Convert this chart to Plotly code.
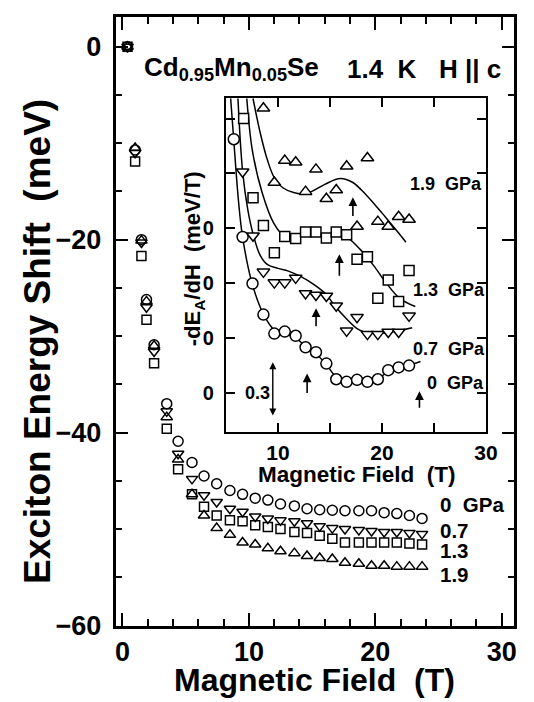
import plotly.graph_objects as go

FONT = "Liberation Sans, Arial, Helvetica, sans-serif"

# ---------------- main panel data ----------------
field = [0.4, 1.0, 1.5, 1.9, 2.5, 3.5, 4.4, 5.5, 6.45, 7.45, 8.5, 9.5, 10.5, 11.5,
         12.5, 13.6, 14.6, 15.6, 16.6, 17.6, 18.7, 19.7, 20.7, 21.7, 22.7, 23.7]
shift_0GPa = [0.0, -10.7, -20.0, -26.2, -30.9, -37.0, -40.9, -43.1, -44.5, -45.3, -46.0,
              -46.4, -46.8, -47.0, -47.4, -47.6, -47.9, -48.0, -48.05, -48.1, -48.1,
              -48.1, -48.3, -48.4, -48.6, -48.9]
shift_07GPa = [0.0, -11.0, -20.3, -27.0, -31.6, -37.8, -42.2, -44.8, -46.5, -47.2, -47.9,
               -48.2, -48.7, -48.9, -49.1, -49.2, -49.4, -49.7, -49.9, -50.0, -50.1,
               -50.2, -50.3, -50.3, -50.4, -50.5]
shift_13GPa = [0.0, -11.9, -21.7, -28.3, -32.8, -39.6, -43.8, -46.4, -47.7, -48.6, -49.1,
               -49.2, -49.6, -49.8, -50.0, -50.3, -50.4, -50.7, -51.0, -51.4, -51.4,
               -51.4, -51.4, -51.4, -51.5, -51.6]
shift_19GPa = [0.0, -10.5, -20.1, -26.4, -31.0, -38.4, -42.8, -46.4, -48.6, -49.9, -50.6,
               -51.4, -51.6, -52.0, -52.3, -52.5, -52.8, -53.0, -53.1, -53.5, -53.6,
               -53.8, -53.8, -53.9, -53.9, -53.9]

main_labels = ["0  GPa", "0.7", "1.3", "1.9"]
main_label_y = [-47.5, -50.1, -52.2, -54.7]

# ---------------- inset data (each curve offset by 0.3 meV/T) ----------------
in_x_0 = [5.75, 6.6, 7.55, 8.6, 9.65, 10.65, 11.7, 12.65, 13.65, 14.65, 15.6, 16.6,
          17.6, 18.6, 19.6, 20.6, 21.6, 22.6]
in_y_0 = [1.387, 0.852, 0.597, 0.427, 0.323, 0.334, 0.311, 0.248, 0.221, 0.159, 0.073,
          0.059, 0.070, 0.059, 0.073, 0.123, 0.138, 0.148]
in_x_07 = [6.6, 7.6, 8.6, 9.65, 10.65, 11.7, 12.65, 13.65, 14.65, 15.6, 16.6, 17.6,
           18.6, 19.6, 20.6, 21.6, 22.6]
in_y_07 = [1.209, 0.859, 0.661, 0.602, 0.602, 0.628, 0.543, 0.534, 0.529, 0.475, 0.338,
           0.413, 0.320, 0.320, 0.332, 0.332, 0.420]
in_x_13 = [6.7, 7.6, 8.6, 9.65, 10.65, 11.7, 12.65, 13.65, 14.65, 15.6, 16.6, 17.6,
           18.6, 19.6, 20.6, 21.6, 22.6]
in_y_13 = [1.50, 1.066, 0.915, 0.766, 0.855, 0.843, 0.879, 0.879, 0.846, 0.879, 0.864,
           0.730, 0.743, 0.516, 0.616, 0.498, 0.668]
in_x_19 = [8.6, 9.65, 10.65, 11.7, 12.65, 13.65, 14.65, 15.6, 16.6, 17.6, 18.6, 19.6,
           20.6, 21.6, 22.6]
in_y_19 = [1.557, 1.150, 1.270, 1.261, 1.100, 1.222, 1.061, 1.109, 1.239, 0.909, 1.284,
           0.936, 0.909, 0.963, 0.948]

# guide curves drawn through the inset data
fit_x_0 = [5.45, 5.75, 6.2, 6.6, 7.5, 8.6, 9.7, 10.7, 11.7, 12.7, 13.7, 14.7, 15.6, 16.6,
           17.6, 18.6, 19.6, 20.6, 21.6, 22.6, 23.7]
fit_y_0 = [1.61, 1.38, 1.05, 0.85, 0.60, 0.43, 0.34, 0.32, 0.30, 0.25, 0.21, 0.15, 0.085,
           0.06, 0.06, 0.06, 0.075, 0.115, 0.14, 0.15, 0.17]
fit_x_07 = [6.15, 6.6, 7.1, 7.64, 8.3, 9.0, 10.0, 11.0, 12.3, 13.5, 14.6, 15.4, 16.65,
            17.6, 18.5, 20.4, 22.9]
fit_y_07 = [1.61, 1.21, 1.00, 0.86, 0.75, 0.70, 0.68, 0.665, 0.632, 0.59, 0.54, 0.48,
            0.40, 0.35, 0.328, 0.328, 0.355]
fit_x_13 = [7.0, 7.55, 8.5, 9.6, 10.5, 12.0, 14.0, 16.0, 16.65, 17.9, 19.2, 20.4, 21.7, 23.2]
fit_y_13 = [1.61, 1.32, 1.09, 0.927, 0.864, 0.86, 0.865, 0.86, 0.85, 0.784, 0.695, 0.60,
            0.516, 0.471]
fit_x_19 = [7.6, 8.3, 9.0, 9.7, 10.5, 11.5, 12.3, 13.2, 14.5, 16.0, 17.2, 18.0, 19.3,
            20.3, 21.5, 22.3]
fit_y_19 = [1.61, 1.42, 1.27, 1.17, 1.12, 1.095, 1.088, 1.10, 1.14, 1.172, 1.15, 1.11,
            1.03, 0.963, 0.88, 0.823]

inset_labels = ["1.9  GPa", "1.3  GPa", "0.7  GPa", "0  GPa"]
inset_label_x = [22.6, 22.9, 22.9, 24.2]
inset_label_y = [1.141, 0.561, 0.239, 0.055]

# arrows (x, tail, head)
arrow_x = [12.8, 23.6, 13.66, 15.9, 17.2]
arrow_tail = [-0.011, -0.091, 0.355, 0.632, 0.959]
arrow_head = [0.105, 0.007, 0.462, 0.757, 1.070]

W, H = 534, 702
fig = go.Figure()

sym_open = ["circle-open", "triangle-down-open", "square-open", "triangle-up-open"]
sym_fill = ["circle", "triangle-down", "square", "triangle-up"]
msize = [10, 10, 9, 10]
for ys, s, ms in zip([shift_0GPa, shift_07GPa, shift_13GPa, shift_19GPa], sym_open, msize):
    fig.add_trace(go.Scatter(x=field, y=ys, mode="markers", xaxis="x", yaxis="y",
                             marker=dict(symbol=s, size=ms, color="black",
                                         line=dict(color="black", width=1.5)),
                             showlegend=False, hoverinfo="skip"))

for fx, fy in [(fit_x_0, fit_y_0), (fit_x_07, fit_y_07), (fit_x_13, fit_y_13), (fit_x_19, fit_y_19)]:
    fig.add_trace(go.Scatter(x=fx, y=fy, mode="lines", xaxis="x2", yaxis="y2",
                             line=dict(color="black", width=1.5, shape="spline", smoothing=1.0),
                             showlegend=False, hoverinfo="skip"))

isize = [11, 11, 10, 11]
for (ix, iy), s, ms in zip([(in_x_0, in_y_0), (in_x_07, in_y_07), (in_x_13, in_y_13), (in_x_19, in_y_19)], sym_fill, isize):
    fig.add_trace(go.Scatter(x=ix, y=iy, mode="markers", xaxis="x2", yaxis="y2",
                             marker=dict(symbol=s, size=ms, color="white",
                                         line=dict(color="black", width=1.5)),
                             showlegend=False, hoverinfo="skip"))

def px_x(p):
    return p / W

def px_y(p):
    return 1 - p / H

axis_common = dict(showline=True, linecolor="black", mirror="allticks", ticks="inside",
                   tickcolor="black", showgrid=False, zeroline=False)

fig.update_layout(
    width=W, height=H, margin=dict(l=0, r=0, t=0, b=0),
    paper_bgcolor="white", plot_bgcolor="white",
    xaxis=dict(domain=[px_x(110), px_x(518)], range=[-0.55, 31.0], anchor="y",
               linewidth=2.5, ticklen=13, tickwidth=2, tick0=0, dtick=10,
               minor=dict(dtick=2, ticklen=7, tickwidth=2, ticks="inside", tickcolor="black", showgrid=False),
               tickfont=dict(family=FONT, size=27, color="black", weight="bold"),
               ticklabelstandoff=0, **axis_common),
    yaxis=dict(domain=[px_y(631), px_y(9)], range=[-60, 3.1], anchor="x",
               linewidth=2.5, ticklen=13, tickwidth=2, tick0=0, dtick=20,
               minor=dict(dtick=5, ticklen=7, tickwidth=2, ticks="inside", tickcolor="black", showgrid=False),
               tickfont=dict(family=FONT, size=27, color="black", weight="bold"),
               ticklabelstandoff=6, **axis_common),
    xaxis2=dict(domain=[px_x(223), px_x(489)], range=[5, 30], anchor="y2",
                linewidth=2, ticklen=9, tickwidth=2,
                tickvals=[5, 10, 15, 20, 25, 30], ticktext=["", "10", "", "20", "", "30"],
                tickfont=dict(family=FONT, size=21, color="black", weight="bold"),
                ticklabelstandoff=1, **axis_common),
    yaxis2=dict(domain=[px_y(433), px_y(92)], range=[-0.2143, 1.6125], anchor="x2",
                linewidth=2, ticklen=9, tickwidth=2,
                tickvals=[0, 0.3, 0.6, 0.9, 1.2, 1.5], ticktext=["0", "0", "0", "0", "", ""],
                tickfont=dict(family=FONT, size=20, color="black", weight="bold"),
                ticklabelstandoff=6, **axis_common),
)

ann = []
def txt(text, x, y, size, xref="paper", yref="paper", xanchor="left", yanchor="middle", angle=0):
    ann.append(dict(text=text, x=x, y=y, xref=xref, yref=yref, xanchor=xanchor, yanchor=yanchor,
                    showarrow=False, textangle=angle, borderpad=0,
                    font=dict(family=FONT, size=size, color="black", weight="bold")))

# titles
txt("Exciton Energy Shift  (meV)", px_x(30), px_y(341), 37, xanchor="center", angle=-90)
txt("Magnetic Field  (T)", px_x(314), px_y(687), 32, xanchor="center")
txt("Magnetic Field  (T)", px_x(357), px_y(477), 22.5, xanchor="center")
txt("-dE<sub>A</sub>/dH  (meV/T)", px_x(190), px_y(256), 22, xanchor="center", angle=-90)
txt("Cd<sub>0.95</sub>Mn<sub>0.05</sub>Se", px_x(138), px_y(62), 26)
txt("1.4  K", px_x(346), px_y(62), 26)
txt("H || c", px_x(440), px_y(62), 26)

for t, yv in zip(main_labels, main_label_y):
    txt(t, 25.06, yv, 20.5, xref="x", yref="y")
for t, xv, yv in zip(inset_labels, inset_label_x, inset_label_y):
    txt(t, xv, yv, 18, xref="x2", yref="y2")
txt("0.3", 9.3, 0.0, 18, xref="x2", yref="y2", xanchor="right")

for ax_, t0, t1 in zip(arrow_x, arrow_tail, arrow_head):
    ann.append(dict(x=ax_, y=t1, ax=ax_, ay=t0, xref="x2", yref="y2", axref="x2", ayref="y2",
                    text="", showarrow=True, arrowhead=2, arrowsize=1.1, arrowwidth=1.6,
                    arrowcolor="black"))
# scale bar: 0.3 meV/T
ann.append(dict(x=9.5, y=0.166, ax=9.5, ay=-0.134, xref="x2", yref="y2", axref="x2", ayref="y2",
                text="", showarrow=True, arrowhead=2, startarrowhead=2, arrowside="end+start",
                arrowsize=1.0, startarrowsize=1.0, arrowwidth=1.4, arrowcolor="black"))

fig.update_layout(annotations=ann)
fig.write_html("out.html")
